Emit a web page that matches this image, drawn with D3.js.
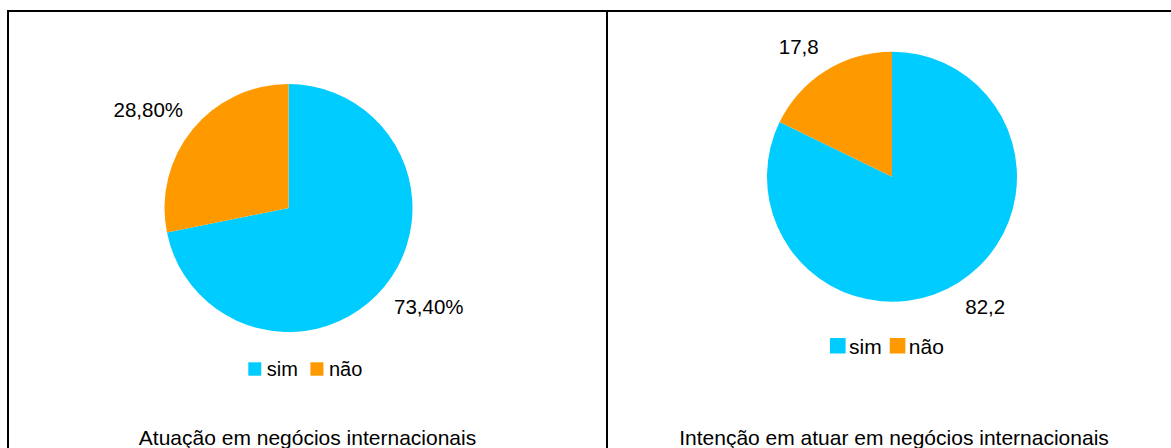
<!DOCTYPE html>
<html>
<head>
<meta charset="utf-8">
<script src="https://cdn.jsdelivr.net/npm/d3@7"></script>
<style>
  html, body { margin: 0; padding: 0; background: #fff; }
  svg { display: block; font-family: "Liberation Sans", Arial, sans-serif; }
</style>
</head>
<body>
<svg id="chart" width="1171" height="448"></svg>
<script>
// Survey answers for the two questions
const categories = ["sim", "não"];
const atuacaoValues = [73.4, 28.8];
const intencaoValues = [82.2, 17.8];
const titles = ["Atuação em negócios internacionais", "Intenção em atuar em negócios internacionais"];

const colors = d3.scaleOrdinal().domain(categories).range(["#00CCFF", "#FF9900"]);

// Portuguese decimal comma
const commaFmt = spec => v => d3.format(spec)(v).replace(".", ",");

const panels = [
  {
    values: atuacaoValues, title: titles[0], fmt: v => commaFmt(".2f")(v) + "%",
    cx: 288.5, cy: 208, r: 124, labelFs: 20.5, gap: [9.5, 12.5],
    legend: { x: 248.3, y: 362.3, sw: 13, sh: 13.4, fs: 20, textGap: 5.5, itemGap: 12.5 },
    titleX: 307.5
  },
  {
    values: intencaoValues, title: titles[1], fmt: commaFmt(".1f"),
    cx: 892, cy: 176.7, r: 125, labelFs: 20.5, gap: [7, 16.5],
    legend: { x: 830, y: 338, sw: 15.6, sh: 15.5, fs: 21, textGap: 3.5, itemGap: 8 },
    titleX: 894
  }
];

const svg = d3.select("#chart");

// Frame around both panels
svg.append("rect")
  .attr("x", 8).attr("y", 11).attr("width", 1173).attr("height", 460)
  .attr("fill", "none").attr("stroke", "#000").attr("stroke-width", 2);
svg.append("line")
  .attr("x1", 607).attr("x2", 607).attr("y1", 11).attr("y2", 460)
  .attr("stroke", "#000").attr("stroke-width", 2);

const pie = d3.pie().sort(null).value(d => d.value);

panels.forEach(p => {
  const data = categories.map((c, i) => ({ cat: c, value: p.values[i] }));
  const arcs = pie(data);
  const arc = d3.arc().innerRadius(0).outerRadius(p.r);
  const g = svg.append("g").attr("transform", `translate(${p.cx},${p.cy})`);

  g.selectAll("path.slice").data(arcs).join("path")
    .attr("class", "slice")
    .attr("d", arc)
    .attr("fill", d => colors(d.data.cat));

  // Value labels outside the slice ends
  g.selectAll("text.val").data(arcs).join("text")
    .attr("class", "val")
    .attr("font-size", p.labelFs)
    .attr("fill", "#000")
    .each(function (d) {
      const a = (d.startAngle + d.endAngle) / 2;
      const dx = Math.sin(a), dy = -Math.cos(a);
      const x = dx * p.r + Math.sign(dx) * p.gap[0];
      let y = dy * p.r + Math.sign(dy) * p.gap[1];
      if (dy > 0) y += 0.716 * p.labelFs;
      d3.select(this)
        .attr("x", x).attr("y", y)
        .attr("text-anchor", dx < 0 ? "end" : "start")
        .text(p.fmt(d.data.value));
    });

  // Legend
  const L = p.legend;
  const lg = svg.append("g");
  let x = L.x;
  categories.forEach(c => {
    lg.append("rect")
      .attr("x", x).attr("y", L.y).attr("width", L.sw).attr("height", L.sh)
      .attr("fill", colors(c));
    const t = lg.append("text")
      .attr("x", x + L.sw + L.textGap).attr("y", L.y + L.sh)
      .attr("font-size", L.fs).attr("fill", "#000")
      .text(c);
    x += L.sw + L.textGap + t.node().getComputedTextLength() + L.itemGap;
  });

  // Panel title
  svg.append("text")
    .attr("x", p.titleX).attr("y", 445)
    .attr("text-anchor", "middle")
    .attr("font-size", 21).attr("fill", "#000")
    .text(p.title);
});
</script>
</body>
</html>
